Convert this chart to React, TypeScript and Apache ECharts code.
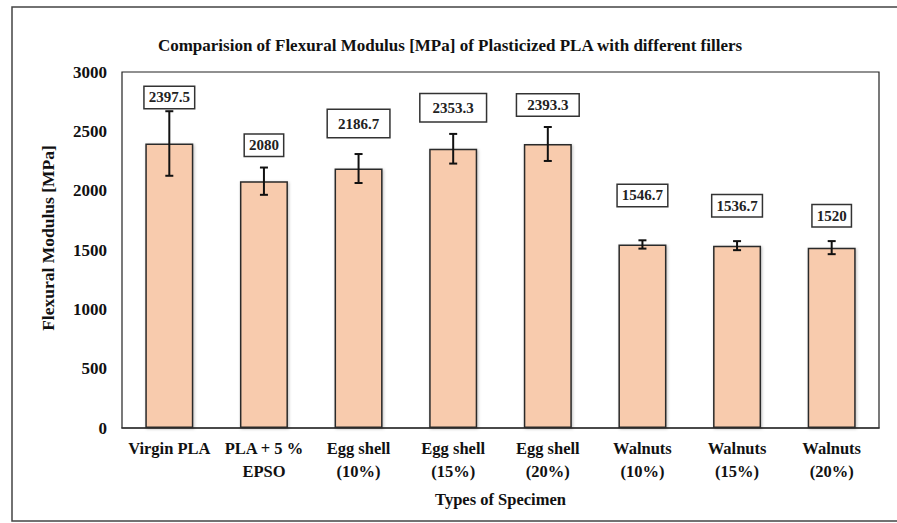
import React, { useEffect, useRef } from "react";
import * as echarts from "echarts";

const categories = [
  "Virgin PLA",
  "PLA + 5 %\nEPSO",
  "Egg shell\n(10%)",
  "Egg shell\n(15%)",
  "Egg shell\n(20%)",
  "Walnuts\n(10%)",
  "Walnuts\n(15%)",
  "Walnuts\n(20%)",
];
const modulus = [2397.5, 2080, 2186.7, 2353.3, 2393.3, 1546.7, 1536.7, 1520];
const errors = [272, 115, 122, 125, 143, 35, 38, 55];
const labelTexts = ["2397.5", "2080", "2186.7", "2353.3", "2393.3", "1546.7", "1536.7", "1520"];
// label box styling: distance (px) above bar top, and padding
const labelLift = [46, 36, 45, 41, 39, 49, 40, 32];
const labelPad = [
  [3, 4], [3, 4], [6, 10], [6, 12], [3, 10], [3, 4], [3, 4], [3, 4],
];
const yTicks = { min: 0, max: 3000, interval: 500 };

const FONT = "'Liberation Serif', 'Times New Roman', serif";

export default function App() {
  const ref = useRef<HTMLDivElement>(null);
  useEffect(() => {
    document.body.style.margin = "0";
    const chart = echarts.init(ref.current!, null, { renderer: "svg" });
    const errData = modulus.map((v, i) => [i, v - errors[i], v + errors[i]]);
    const lblData = modulus.map((v, i) => [i, v]);
    chart.setOption({
      animation: false,
      backgroundColor: "#ffffff",
      title: {
        text: "Comparision of Flexural Modulus [MPa] of Plasticized PLA with different fillers",
        left: 445,
        textAlign: "center",
        top: 32,
        textStyle: { fontFamily: FONT, fontSize: 17, fontWeight: "bold", color: "#111" },
      },
      graphic: [
        {
          type: "rect",
          shape: { x: 12, y: 7, width: 900, height: 514 },
          style: { fill: "none", stroke: "#444", lineWidth: 1.5 },
          silent: true,
        },
        {
          type: "text",
          x: 48,
          y: 238,
          rotation: Math.PI / 2,
          style: {
            text: "Flexural Modulus [MPa]",
            fontFamily: FONT,
            fontSize: 17.5,
            fontWeight: "bold",
            fill: "#111",
            align: "center",
            verticalAlign: "middle",
          },
        },
      ],
      grid: {
        left: 122,
        right: 18,
        top: 72,
        bottom: 95,
        show: true,
        borderColor: "#222",
        borderWidth: 1.2,
        backgroundColor: "transparent",
      },
      xAxis: {
        type: "category",
        data: categories,
        axisTick: { show: false },
        axisLine: { lineStyle: { color: "#333", width: 1.5 } },
        axisLabel: {
          fontFamily: FONT,
          fontSize: 16.5,
          fontWeight: "bold",
          color: "#111",
          margin: 9,
          lineHeight: 23,
          interval: 0,
        },
        name: "Types of Specimen",
        nameLocation: "middle",
        nameGap: 63,
        nameTextStyle: { fontFamily: FONT, fontSize: 16.5, fontWeight: "bold", color: "#111" },
      },
      yAxis: {
        type: "value",
        min: yTicks.min,
        max: yTicks.max,
        interval: yTicks.interval,
        splitLine: { show: false },
        axisLine: { show: false },
        axisTick: { show: false },
        axisLabel: {
          fontFamily: FONT,
          fontSize: 17,
          fontWeight: "bold",
          color: "#111",
          margin: 15,
          formatter: (v: number) => String(v),
        },
      },
      series: [
        {
          type: "bar",
          data: modulus,
          barWidth: 48,
          itemStyle: {
            color: "#F8CBAD",
            borderColor: "#2a2a2a",
            borderWidth: 1.5,
            shadowColor: "rgba(0,0,0,0.25)",
            shadowBlur: 3,
            shadowOffsetX: 1,
            shadowOffsetY: 1,
          },
        },
        {
          type: "custom",
          data: errData,
          z: 5,
          renderItem: (params: any, api: any) => {
            const i = api.value(0);
            const lo = api.coord([i, api.value(1)]);
            const hi = api.coord([i, api.value(2)]);
            const x = lo[0];
            const w = 4;
            const ls = { stroke: "#111", lineWidth: 2 };
            return {
              type: "group",
              children: [
                { type: "line", shape: { x1: x, y1: hi[1], x2: x, y2: lo[1] }, style: ls },
                { type: "line", shape: { x1: x - w, y1: hi[1], x2: x + w, y2: hi[1] }, style: ls },
                { type: "line", shape: { x1: x - w, y1: lo[1], x2: x + w, y2: lo[1] }, style: ls },
              ],
            };
          },
        },
        {
          type: "custom",
          data: lblData,
          z: 6,
          renderItem: (params: any, api: any) => {
            const idx = params.dataIndex;
            const p = api.coord([api.value(0), api.value(1)]);
            return {
              type: "text",
              x: p[0],
              y: p[1] - labelLift[idx],
              style: {
                text: labelTexts[idx],
                fontFamily: FONT,
                fontSize: 15,
                fontWeight: "bold",
                fill: "#222",
                align: "center",
                verticalAlign: "middle",
                backgroundColor: "#fff",
                borderColor: "#333",
                borderWidth: 1.5,
                padding: labelPad[idx],
              },
            };
          },
        },
      ],
    });
    return () => chart.dispose();
  }, []);
  return <div ref={ref} style={{ width: 897, height: 523 }} />;
}
